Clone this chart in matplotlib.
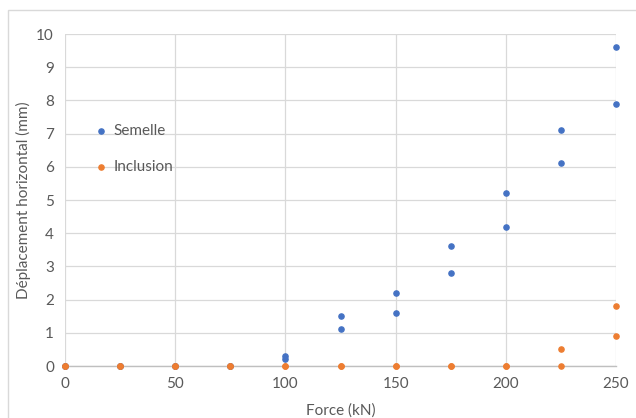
import matplotlib
matplotlib.use("Agg")
import matplotlib.pyplot as plt
from matplotlib.patches import Rectangle

# ==============================
# Data
# ==============================
force_kn = [0, 0, 25, 25, 50, 50, 75, 75, 100, 100, 125, 125,
            150, 150, 175, 175, 200, 200, 225, 225, 250, 250]
semelle_mm = [0, 0, 0, 0, 0, 0, 0, 0, 0.3, 0.2, 1.5, 1.1,
              2.2, 1.6, 3.6, 2.8, 5.2, 4.2, 7.1, 6.1, 9.6, 7.9]
inclusion_mm = [0, 0, 0, 0, 0, 0, 0, 0, 0, 0, 0, 0,
                0, 0, 0, 0, 0, 0, 0.5, 0, 1.8, 0.9]

x_ticks = [0, 50, 100, 150, 200, 250]
y_ticks = list(range(0, 11))

BLUE = "#4472C4"
ORANGE = "#ED7D31"
TXT = "#595959"
GRID = "#D9D9D9"

plt.rcParams["font.family"] = ["Lato", "DejaVu Sans"]

fig = plt.figure(figsize=(6.36, 4.18), dpi=100)
ax = fig.add_axes([65 / 636, 1 - 366 / 418, 551 / 636, 332 / 418])

# outer chart border
fig.patches.append(Rectangle((8 / 636, -0.05), 1.1, 1 - 10 / 418 + 0.05,
                             transform=fig.transFigure, fill=False,
                             edgecolor=GRID, linewidth=1.0))

ax.scatter(force_kn, semelle_mm, s=14, color=BLUE, label="Semelle", zorder=3, clip_on=False)
ax.scatter(force_kn, inclusion_mm, s=14, color=ORANGE, label="Inclusion", zorder=4, clip_on=False)

ax.set_xlim(0, 250)
ax.set_ylim(0, 10)
ax.set_xticks(x_ticks)
ax.set_yticks(y_ticks)
ax.grid(True, color=GRID, linewidth=0.9)
ax.set_axisbelow(True)
for side in ["top", "right", "left"]:
    ax.spines[side].set_visible(False)
ax.spines["bottom"].set_color("#BFBFBF")
ax.spines["bottom"].set_linewidth(1.0)
ax.tick_params(length=0, colors=TXT, labelsize=11, pad=8)

ax.set_xlabel("Force (kN)", color=TXT, fontsize=11, labelpad=9)
ax.set_ylabel("Déplacement horizontal (mm)", color=TXT, fontsize=11, labelpad=4)

leg = ax.legend(loc="upper left", bbox_to_anchor=(0.02, 0.77), frameon=False,
                fontsize=11, labelcolor=TXT, handletextpad=0.05,
                labelspacing=1.45, markerscale=1.0, handlelength=1.5)

fig.savefig("out.png", dpi=100)
